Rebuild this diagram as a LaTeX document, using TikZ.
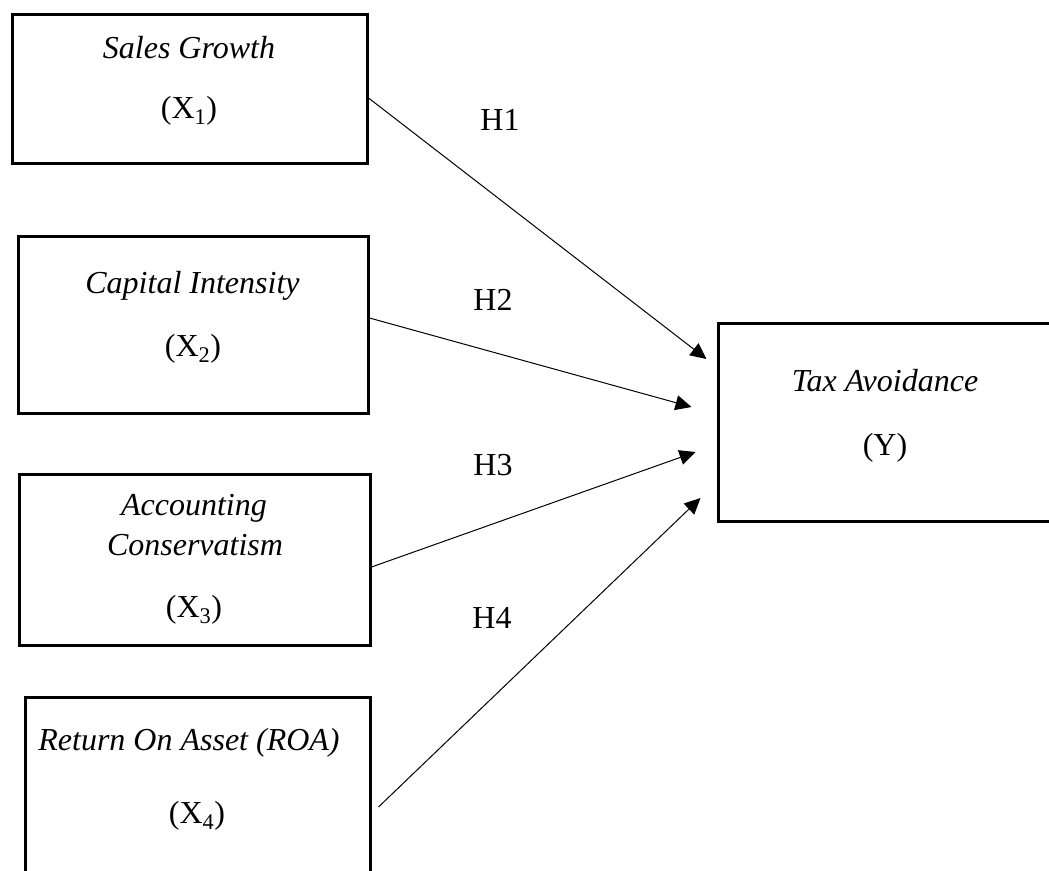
\documentclass[tikz,border=0pt]{standalone}
\usepackage{fontspec}
\setmainfont{Liberation Serif}
\usetikzlibrary{arrows.meta}
\begin{document}
\begin{tikzpicture}[x=1pt,y=-1pt]
	\tikzstyle{every node}+=[inner sep=0pt, font=\fontsize{32}{38}\selectfont]
	\tikzstyle{varbox}=[draw=black, line width=3pt, rectangle]
	\tikzstyle{vartitle}=[anchor=base, font=\fontsize{32}{38}\selectfont\itshape]
	\tikzstyle{varsym}=[anchor=base]
	\tikzstyle{hyparr}=[black, line width=1pt, -{Triangle[length=16pt,width=15pt]}]
	\useasboundingbox (0,0) rectangle (1049,870);
	\draw (189.5,88.5) node [varbox, minimum width=355pt, minimum height=149pt] (x1) {};
	\draw (189,58) node [vartitle] (x1a) {Sales Growth};
	\draw (189,118) node [varsym] (x1b) {(X\textsubscript{1})};
	\draw (193,324.5) node [varbox, minimum width=350pt, minimum height=177pt] (x2) {};
	\draw (192.5,293) node [vartitle] (x2a) {Capital Intensity};
	\draw (193,356) node [varsym] (x2b) {(X\textsubscript{2})};
	\draw (194.5,559.5) node [varbox, minimum width=351pt, minimum height=171pt] (x3) {};
	\draw (194,515) node [vartitle] (x3a) {Accounting};
	\draw (195,555) node [vartitle] (x3b) {Conservatism};
	\draw (194,617) node [varsym] (x3c) {(X\textsubscript{3})};
	\draw (197.5,807) node [varbox, minimum width=345pt, minimum height=220pt] (x4) {};
	\draw (189,750) node [vartitle] (x4a) {Return On Asset (ROA)};
	\draw (197,823) node [varsym] (x4b) {(X\textsubscript{4})};
	\draw (889,422) node [varbox, minimum width=342pt, minimum height=198pt] (y) {};
	\draw (885,391) node [vartitle] (ya) {Tax Avoidance};
	\draw (885,455) node [varsym] (yb) {(Y)};
	\coordinate (t1) at ([xshift=-10pt,yshift=63pt]y.west);
	\coordinate (t2) at ([xshift=-25pt,yshift=15pt]y.west);
	\coordinate (t3) at ([xshift=-21pt,yshift=-30pt]y.west);
	\coordinate (t4) at ([xshift=-16pt,yshift=-76pt]y.west);
	\draw [hyparr] ([yshift=-9.5pt]x1.east) -- (t1);
	\draw [hyparr] ([yshift=6.5pt]x2.east) -- (t2);
	\draw [hyparr] ([yshift=-7.5pt]x3.east) -- (t3);
	\draw [hyparr] ([xshift=7pt]x4.east) -- (t4);
	\draw (500,130) node [varsym] (h1) {H1};
	\draw (493,310) node [varsym] (h2) {H2};
	\draw (493,475) node [varsym] (h3) {H3};
	\draw (492,628) node [varsym] (h4) {H4};
\end{tikzpicture}
\end{document}
